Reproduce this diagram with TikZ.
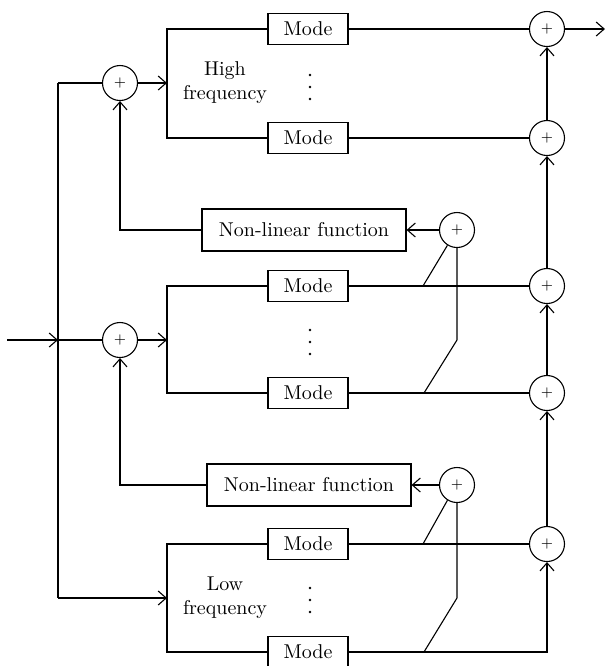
\documentclass[tikz,border=0pt]{standalone}
\usetikzlibrary{arrows.meta}
\begin{document}
\begin{tikzpicture}[x=0.5pt,y=-0.5pt,line width=0.55pt,>={Straight Barb[length=4pt,width=7pt]},
  mode/.style={draw,minimum width=40pt,minimum height=15.5pt,inner sep=0pt},
  nlbox/.style={draw,minimum width=102pt,minimum height=21pt,inner sep=0pt},
  sum/.style={draw,circle,minimum size=17.5pt,inner sep=0pt,font=\scriptsize}]
  \useasboundingbox (0,0) rectangle (611,666);

  % modes and adders
  \foreach \n/\y in {mA/29,mB/138,mC/286,mD/393,mE/544,mF/652}
    \node[mode] (\n) at (308,\y) {Mode};
  \foreach \n/\y in {oA/29,oB/138,oC/286,oD/393,oE/544}
    \node[sum] (\n) at (547,\y) {$+$};
  \node[sum] (iA) at (120,83) {$+$};
  \node[sum] (iB) at (120,340) {$+$};
  \node[sum] (fA) at (457,230) {$+$};
  \node[sum] (fB) at (457,485) {$+$};
  \node[nlbox] (nA) at (304,230) {Non-linear function};
  \node[nlbox] (nB) at (309,485) {Non-linear function};
  \node[align=center] (hi) at (225,83) {High\\frequency};
  \node[align=center] (lo) at (225,598) {Low\\frequency};
  \foreach \y in {87,342,600}
    \foreach \d in {-12,0,12}
      \fill (310,\y+\d) circle (0.7pt);

  % junctions
  \coordinate (in) at (7,340);
  \coordinate (out) at (605,29);
  \coordinate (jA) at (58,83);
  \coordinate (jB) at (58,340);
  \coordinate (jC) at (58,598);
  \coordinate (bA) at (167,83);
  \coordinate (bB) at (167,340);
  \coordinate (bC) at (167,598);
  \coordinate (tA1) at (423,286);
  \coordinate (kA) at (457,340);
  \coordinate (tA2) at (424,393);
  \coordinate (tB1) at (423,544);
  \coordinate (kB) at (457,598);
  \coordinate (tB2) at (424,652);

  % input side
  \draw[->] (in) -- (jB);
  \draw (jA) -- (jC);
  \draw (jA) -- (iA);
  \draw (jB) -- (iB);
  \draw[->] (iA) -- (bA);
  \draw[->] (iB) -- (bB);
  \draw[->] (jC) -- (bC);
  \draw (mA.west) -| (bA) |- (mB.west);
  \draw (mC.west) -| (bB) |- (mD.west);
  \draw (mE.west) -| (bC) |- (mF.west);

  % output side
  \foreach \m/\o in {mA/oA,mB/oB,mC/oC,mD/oD,mE/oE}
    \draw (\m.east) -- (\o);
  \draw[->] (mF.east) -| (oE);
  \draw[->] (oE) -- (oD);
  \draw[->] (oD) -- (oC);
  \draw[->] (oC) -- (oB);
  \draw[->] (oB) -- (oA);
  \draw[->] (oA) -- (out);

  % feedback
  \draw[->] (fA) -- (nA);
  \draw[->] (fB) -- (nB);
  \draw[->] (nA.west) -| (iA);
  \draw[->] (nB.west) -| (iB);
  \draw (fA.238) -- (tA1);
  \draw (fA) -- (kA) -- (tA2);
  \draw (fB.238) -- (tB1);
  \draw (fB) -- (kB) -- (tB2);
\end{tikzpicture}
\end{document}
